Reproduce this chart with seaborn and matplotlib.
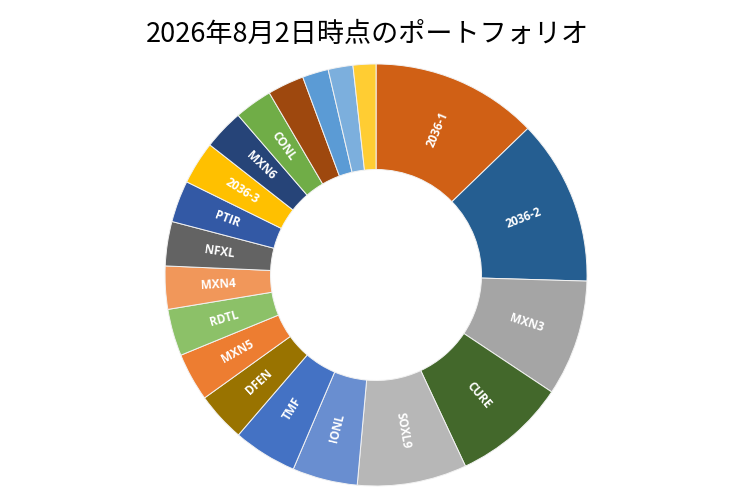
import numpy as np
import matplotlib
matplotlib.use("Agg")
import matplotlib.pyplot as plt
import seaborn as sns

# portfolio shares (%), clockwise from 12 o'clock
tickers = ["2036-1", "2036-2", "MXN3", "CURE", "SOXL9", "IONL", "TMF", "DFEN",
           "MXN5", "RDTL", "MXN4", "NFXL", "PTIR", "2036-3", "MXN6", "CONL",
           "", "", "", ""]
shares = [12.8, 12.7, 8.9, 8.7, 8.4, 5.0, 4.9, 3.8,
          3.7, 3.6, 3.3, 3.4, 3.2, 3.3, 3.1, 2.9,
          2.8, 2.0, 1.9, 1.75]
colors = ["#D06015", "#255E91", "#A5A5A5", "#43682B", "#B7B7B7", "#698ED0",
          "#4472C4", "#997300", "#ED7D31", "#8CC168", "#F1975A", "#636363",
          "#3359A5", "#FFC000", "#264478", "#70AD47", "#9E480E", "#5B9BD5",
          "#7CAFDD", "#FFCD33"]

sns.set_theme(style="white")
plt.rcParams['font.family'] = ['Noto Sans CJK JP', 'DejaVu Sans']

fig = plt.figure(figsize=(7.4, 4.93), dpi=100, facecolor='white')
ax = fig.add_axes([0.223, 0.0142, 0.5703, 0.856])

wedges, _ = ax.pie(shares, colors=colors, startangle=90, counterclock=False,
                   radius=1.0, wedgeprops=dict(width=0.5, edgecolor='#f2f2f2', linewidth=0.7))

# labels along the radius, in the middle of the ring
for w, name in zip(wedges, tickers):
    if not name:
        continue
    mid = (w.theta1 + w.theta2) / 2
    x = 0.75 * np.cos(np.radians(mid))
    y = 0.75 * np.sin(np.radians(mid))
    rot = mid % 360
    if rot > 90 and rot < 270:
        rot = rot - 180
    if rot > 180:
        rot = rot - 360
    ax.text(x, y, name, ha='center', va='center', rotation=rot, rotation_mode='anchor',
            color='white', fontsize=8.5, fontweight='bold', family=['Open Sans', 'DejaVu Sans'])

ax.set_xlim(-1, 1)
ax.set_ylim(-1, 1)
ax.set_aspect('equal')
ax.axis('off')

fig.text(0.497, 0.930, "2026年8月2日時点のポートフォリオ", ha='center', va='center',
         fontsize=19.5, color='black')

fig.savefig('out.png', dpi=100)
